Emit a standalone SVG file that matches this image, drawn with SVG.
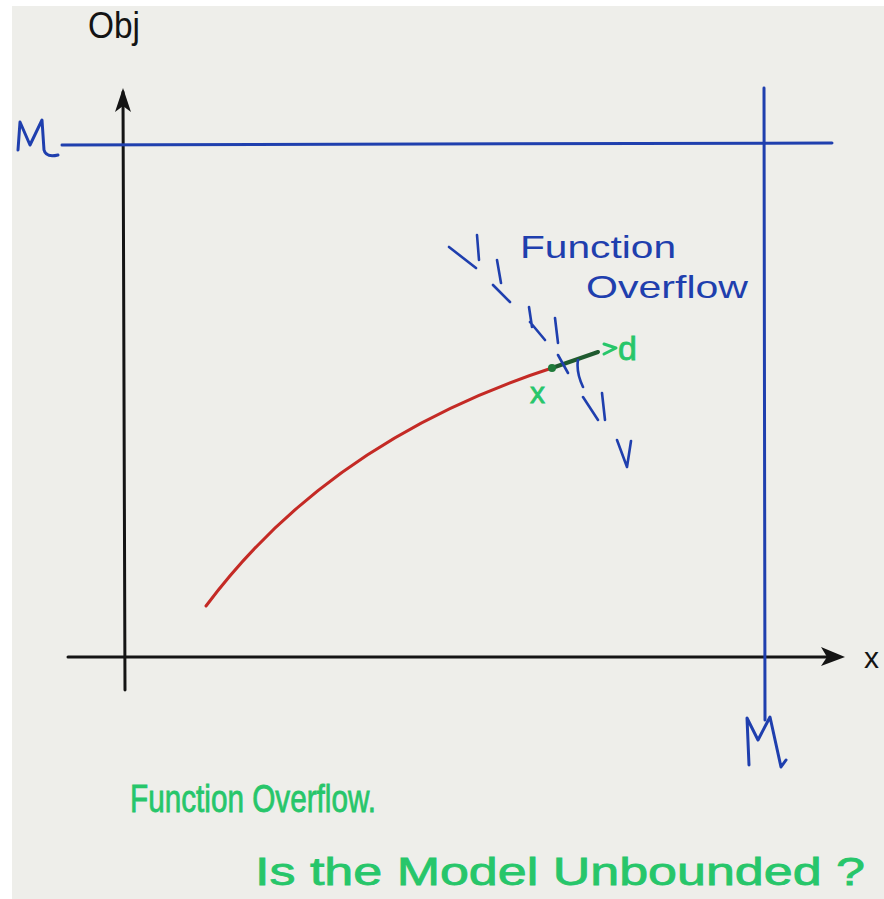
<svg xmlns="http://www.w3.org/2000/svg" width="884" height="899" viewBox="0 0 884 899">
<style>
.ink{fill:none;stroke-linecap:round;stroke-linejoin:round}
.blk{stroke:#141414;stroke-width:3}
.blu{stroke:#1f3fae;stroke-width:3}
.dash{stroke:#1f3fae;stroke-width:2.6}
.hand{font-family:"Liberation Sans","DejaVu Sans",sans-serif}
.g{fill:#27c66a;stroke:#27c66a;stroke-width:0.8}
.b{fill:#1f3fae}
</style>
<rect x="0" y="0" width="884" height="899" fill="#ffffff"/>
<rect x="12" y="6" width="872" height="893" fill="#eeeeea"/>
<g id="axes">
<line class="ink blk" x1="125" y1="690" x2="123" y2="92"/>
<path d="M123,88 L131,112 L123,106 L115,112 Z" fill="#141414"/>
<line class="ink blk" x1="68" y1="657" x2="836" y2="657"/>
<path d="M845,657 L821,666 L827,657 L821,647 Z" fill="#141414"/>
<text class="hand" x="88" y="38" font-size="36" fill="#141414" textLength="52" lengthAdjust="spacingAndGlyphs">Obj</text>
<text class="hand" x="864" y="668" font-size="30" fill="#141414">x</text>
</g>
<g id="bounds">
<line class="ink blu" x1="62" y1="145" x2="832" y2="143"/>
<line class="ink blu" x1="764" y1="88" x2="765" y2="720"/>
<path class="ink blu" d="M18,150 L20,122 L30,145 L42,120 L44,150 Q46,158 58,155"/>
<path class="ink blu" d="M749,765 L747,718 L758,740 L770,717 L781,767 L786,760"/>
</g>
<g id="curve">
<path class="ink" d="M206,606 Q330,440 552,368" stroke="#c42a25" stroke-width="3"/>
<line class="ink" x1="552" y1="368" x2="598" y2="352" stroke="#1f5a2f" stroke-width="4"/>
<circle cx="552" cy="368" r="4" fill="#1f7a3a"/>
<path class="ink" d="M604,344 L616,348 L604,354" stroke="#27c66a" stroke-width="3"/>
<text class="hand g" x="530" y="403" font-size="30">x</text>
<text class="hand g" x="618" y="360" font-size="34">d</text>
</g>
<g id="overflow-boundary">
<path class="ink dash" d="M449,247 L476,268 M477,235 L479,260 M497,260 L501,283 M493,285 L510,302 M529,307 L532,327 M530,322 L545,340 M555,318 L558,343 M558,355 L568,373 M578,360 Q576,372 583,387 M583,397 L598,420 M602,393 L605,420 M617,440 L627,467 L631,441"/>
<text class="hand b" x="520" y="258" font-size="32" textLength="156" lengthAdjust="spacingAndGlyphs">Function</text>
<text class="hand b" x="586" y="298" font-size="32" textLength="162" lengthAdjust="spacingAndGlyphs">Overflow</text>
</g>
<g id="caption">
<text class="hand g" x="130" y="812" font-size="38" textLength="246" lengthAdjust="spacingAndGlyphs">Function Overflow.</text>
<text class="hand g" x="255" y="885" font-size="38" textLength="610" lengthAdjust="spacingAndGlyphs">Is the Model Unbounded ?</text>
</g>
</svg>
